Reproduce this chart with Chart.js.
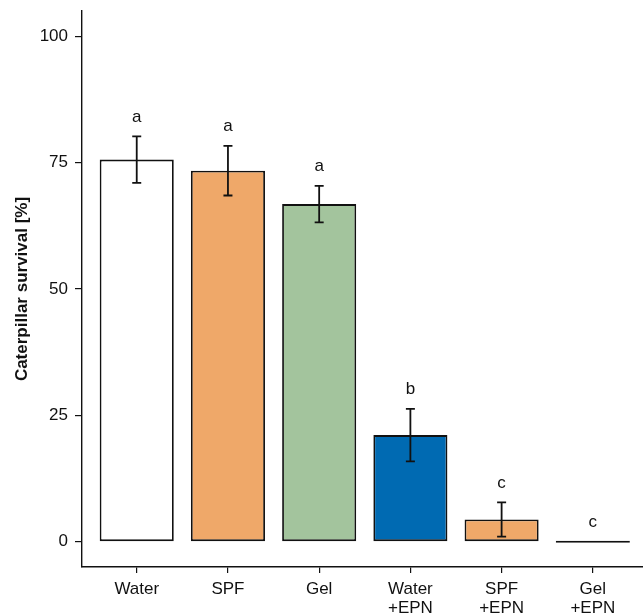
<!DOCTYPE html>
<html>
<head>
<meta charset="utf-8">
<script src="https://cdn.jsdelivr.net/npm/chart.js@4/dist/chart.umd.min.js"></script>
<style>
  html, body { margin: 0; padding: 0; background: #ffffff; overflow: hidden; }
  #wrap { width: 643px; height: 615px; }
</style>
</head>
<body>
<div id="wrap"><canvas id="c" width="643" height="615"></canvas></div>
<script>
// ---- data ----
const categories = ["Water", "SPF", "Gel", "Water\n+EPN", "SPF\n+EPN", "Gel\n+EPN"];
const survival   = [75.6, 73.4, 66.8, 21.1, 4.4, 0];
const stdError   = [4.6, 4.9, 3.6, 5.2, 3.4, 0];
const letters    = ["a", "a", "a", "b", "c", "c"];
const barColors  = ["#ffffff", "#efa869", "#a3c49d", "#006ab2", "#efa869", "#a3c49d"];
const yTicks     = [0, 25, 50, 75, 100];
const xPositions = [1, 2, 3, 4, 5, 6];

const FONT = "'Liberation Sans', Arial, Helvetica, sans-serif";
const INK = "#111111";

const errorBarPlugin = {
  id: "errorBars",
  afterDatasetsDraw(chart) {
    const { ctx, scales: { x, y } } = chart;
    ctx.save();
    ctx.strokeStyle = INK;
    ctx.lineWidth = 1.8;
    ctx.lineCap = "butt";
    xPositions.forEach((pos, i) => {
      const px = x.getPixelForValue(pos);
      const top = y.getPixelForValue(survival[i] + stdError[i]);
      const bot = y.getPixelForValue(survival[i] - stdError[i]);
      if (stdError[i] > 0) {
        const hw = 4.5;
        ctx.beginPath();
        ctx.moveTo(px, top); ctx.lineTo(px, bot);
        ctx.moveTo(px - hw, top); ctx.lineTo(px + hw, top);
        ctx.moveTo(px - hw, bot); ctx.lineTo(px + hw, bot);
        ctx.stroke();
      }
      ctx.fillStyle = INK;
      ctx.font = "17px " + FONT;
      ctx.textAlign = "center";
      ctx.textBaseline = "alphabetic";
      ctx.fillText(letters[i], px, top - 14.5);
    });
    ctx.restore();
  }
};

new Chart(document.getElementById("c"), {
  type: "bar",
  data: {
    datasets: [{
      data: xPositions.map((pos, i) => ({ x: pos, y: survival[i] })),
      backgroundColor: barColors,
      borderColor: INK,
      borderWidth: 1.8,
      borderSkipped: false,
      minBarLength: 2,
      categoryPercentage: 1,
      barPercentage: 0.812
    }]
  },
  options: {
    responsive: false,
    animation: false,
    devicePixelRatio: 1,
    layout: { padding: { top: 11, right: 0, left: 0, bottom: 0 } },
    plugins: { legend: { display: false }, tooltip: { enabled: false } },
    scales: {
      x: {
        type: "linear",
        min: 0.4,
        max: 6.55,
        offset: false,
        afterBuildTicks: s => { s.ticks = xPositions.map(v => ({ value: v })); },
        afterFit: s => { s.height = 48; s.paddingLeft = 0; s.paddingRight = 0; },
        grid: { display: true, drawOnChartArea: false, drawTicks: true, tickLength: 6, color: INK, lineWidth: 1.2, offset: false },
        border: { display: true, color: INK, width: 1.4 },
        ticks: {
          color: INK,
          padding: 7,
          maxRotation: 0,
          autoSkip: false,
          font: { family: FONT, size: 17, lineHeight: 1.12 },
          callback: (v) => {
            const idx = xPositions.indexOf(v);
            return idx >= 0 ? categories[idx].split("\n") : "";
          }
        }
      },
      y: {
        min: -5,
        max: 105,
        afterBuildTicks: s => { s.ticks = yTicks.map(v => ({ value: v })); },
        afterFit: s => { s.width = 82; s.paddingTop = 0; s.paddingBottom = 0; },
        grid: { display: true, drawOnChartArea: false, drawTicks: true, tickLength: 7, color: INK, lineWidth: 1.2 },
        border: { display: true, color: INK, width: 1.4 },
        ticks: {
          color: INK,
          padding: 7,
          font: { family: FONT, size: 17 }
        },
        title: {
          display: true,
          text: "Caterpillar survival [%]",
          color: INK,
          padding: { top: 12, bottom: 0 },
          font: { family: FONT, size: 17, weight: "bold", lineHeight: 1.2 }
        }
      }
    }
  },
  plugins: [errorBarPlugin]
});
</script>
</body>
</html>
